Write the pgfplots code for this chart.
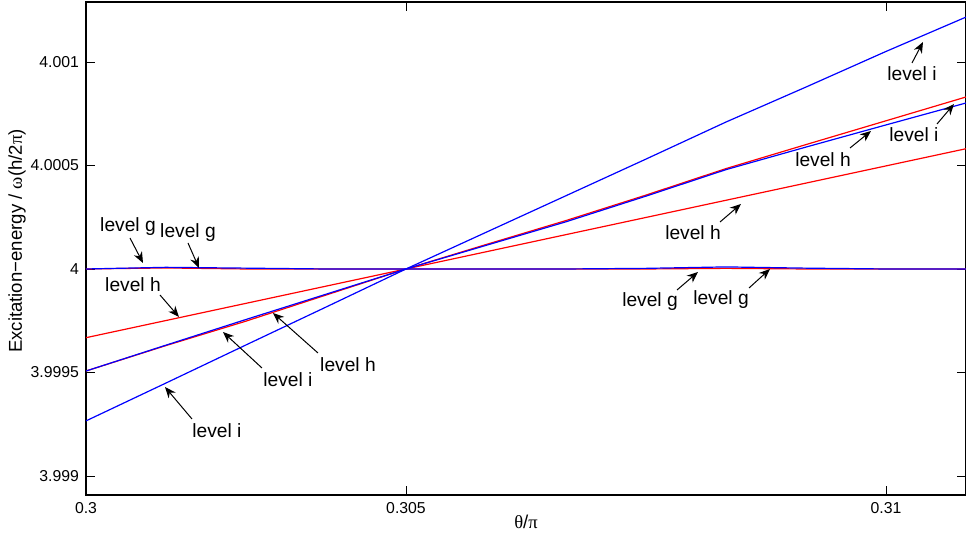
\documentclass[border=0pt]{standalone}
\usepackage{pgfplots}
\usepackage{pgfplotstable}
\pgfplotsset{compat=1.18}
\usepackage{fontspec}
\setmainfont{Liberation Sans}
\newfontfamily\gr{Liberation Serif}
\usetikzlibrary{arrows.meta}

\pgfplotstableread{
i  redg      blueg     redh1     redh2     bluei1    bluei2
0  4.000000  4.000000  3.999668  3.999507  3.999507  3.999266
1  4.000005  4.000008  3.999751  3.999630  3.999632  3.999449
2  4.000000  4.000004  3.999834  3.999748  3.999756  3.999633
3  4.000000  4.000000  3.999917  3.999874  3.999878  3.999816
4  4.000000  4.000000  4.000000  4.000000  4.000000  4.000000
5  4.000000  4.000000  4.000083  4.000118  4.000114  4.000177
6  4.000000  4.000000  4.000166  4.000234  4.000228  4.000354
7  4.000000  4.000003  4.000249  4.000357  4.000352  4.000531
8  4.000003  4.000010  4.000332  4.000485  4.000480  4.000710
9  4.000000  4.000004  4.000415  4.000601  4.000589  4.000879
10 4.000000  4.000000  4.000498  4.000716  4.000696  4.001051
11 4.000000  4.000000  4.000581  4.000831  4.000802  4.001217
}\data

\begin{document}
\begin{tikzpicture}
\begin{axis}[
  scale only axis,
  width=440pt, height=246.5pt,
  xmin=0, xmax=11,
  ymin=3.998908, ymax=4.0012899,
  xtick={0,4,10},
  xticklabels={0.3,0.305,0.31},
  ytick={3.999,3.9995,4,4.0005,4.001},
  yticklabels={3.999,3.9995,4,4.0005,4.001},
  scaled y ticks=false,
  scaled x ticks=false,
  tick align=inside,
  major tick length=4.5pt,
  tick style={line width=0.4pt, black},
  axis line style={line width=0.7pt},
  ticklabel style={font=\fontsize{7.9}{9}\selectfont},
  /pgf/number format/assume math mode=true,
  xlabel={{\gr θ}/{\gr π}},
  ylabel={Excitation−energy / {\gr ω}(h/2{\gr π})},
  label style={font=\fontsize{9.3}{11}\selectfont},
  xlabel style={at={(rel axis cs:0.5,0)}, anchor=center, yshift=-13.5pt},
  ylabel style={at={(rel axis cs:0,0.515)}, anchor=center, rotate=0, yshift=34.5pt},
  every axis plot/.append style={line width=0.6pt, mark=none},
]
\addplot[red] table[x=i,y=redg] {\data};
\addplot[red] table[x=i,y=redh1] {\data};
\addplot[red] table[x=i,y=redh2] {\data};
\addplot[blue] table[x=i,y=blueg] {\data};
\addplot[blue] table[x=i,y=bluei1] {\data};
\addplot[blue] table[x=i,y=bluei2] {\data};
\end{axis}
\begin{scope}[x=0.5pt, y=-0.5pt, shift={(current axis.south west)}, shift={(-86,-495)},
  lab/.style={font=\fontsize{9.6}{11}\selectfont, inner sep=0pt, anchor=center},
  arr/.style={-{Stealth[length=5.5pt,width=4.5pt]}, line width=0.5pt, black}]
\node[lab] at (128,227) {level g}; \draw[arr] (130,238) -- (143,263);
\node[lab] at (188,233) {level g}; \draw[arr] (188,243) -- (199,268);
\node[lab] at (133,285) {level h}; \draw[arr] (160,295) -- (179,317);
\node[lab] at (288,380) {level i}; \draw[arr] (262,368) -- (223,332);
\node[lab] at (348,365) {level h}; \draw[arr] (318,353) -- (273,313);
\node[lab] at (217,431) {level i}; \draw[arr] (192,419) -- (165,387);
\node[lab] at (912,74) {level i};  \draw[arr] (912,63) -- (923,42);
\node[lab] at (914,135) {level i}; \draw[arr] (937,124) -- (954,104);
\node[lab] at (823,160) {level h}; \draw[arr] (850,148) -- (871,131);
\node[lab] at (693,233) {level h}; \draw[arr] (720,222) -- (741,204);
\node[lab] at (650,302) {level g}; \draw[arr] (677,290) -- (698,272);
\node[lab] at (721,300) {level g}; \draw[arr] (749,288) -- (770,269);
\end{scope}
\pgfresetboundingbox
\path[use as bounding box] ([shift={(-43pt,-23pt)}]current axis.south west) rectangle ([shift={(0pt,1pt)}]current axis.north east);
\end{tikzpicture}
\end{document}
